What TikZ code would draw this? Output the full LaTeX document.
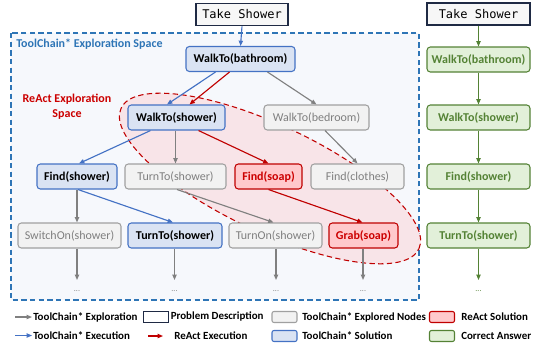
\documentclass[tikz,border=0pt]{standalone}
\usepackage{fontspec}
\setmainfont{Carlito}
\setmonofont{DejaVu Sans Mono}
\usetikzlibrary{arrows.meta,calc}
\definecolor{bluefill}{HTML}{DAE3F3}
\definecolor{blueline}{HTML}{4472C4}
\definecolor{grayfill}{HTML}{F2F2F2}
\definecolor{grayline}{HTML}{A0A0A0}
\definecolor{graytext}{HTML}{7F7F7F}
\definecolor{grayarrow}{HTML}{808080}
\definecolor{redfill}{HTML}{FFC9CC}
\definecolor{redline}{HTML}{C00000}
\definecolor{redtext}{HTML}{CC0000}
\definecolor{greenfill}{HTML}{E2F0D9}
\definecolor{greenline}{HTML}{548235}
\definecolor{navy}{HTML}{1F2A44}
\definecolor{pdfill}{HTML}{F7F7F7}
\definecolor{spaceline}{HTML}{2E75B6}
\definecolor{spacefill}{HTML}{F6F8FC}
\definecolor{ellfill}{HTML}{F8E4E8}
\begin{document}
\begin{tikzpicture}[x=0.75pt,y=-0.75pt,
  bw/.style={minimum width=#1*0.75pt},
  box/.style={rectangle, rounded corners=2.5pt, line width=0.8pt, inner sep=0pt, minimum height=18.75pt},
  nf/.style={font=\fontsize{9}{11}\selectfont},
  bf/.style={font=\fontsize{9}{11}\selectfont\bfseries},
  pd/.style={box, rounded corners=0pt, draw=navy, line width=1.2pt, fill=pdfill, minimum height=16.5pt, font=\fontsize{9}{11}\selectfont\ttfamily},
  bluebox/.style={box, draw=blueline, fill=bluefill, bf, text=black},
  graybox/.style={box, draw=grayline, fill=grayfill, nf, text=graytext},
  redbox/.style={box, draw=redline, fill=redfill, bf, text=redtext},
  greenbox/.style={box, draw=greenline, fill=greenfill, bf, text=greenline},
  arr/.style={-{Triangle[length=4pt,width=3.2pt]}, line width=0.85pt},
  ga/.style={arr, draw=grayarrow},
  ba/.style={arr, draw=blueline},
  ra/.style={arr, draw=redline},
  gra/.style={arr, draw=greenline},
  dots/.style={font=\fontsize{6}{6}\selectfont, text=graytext, inner sep=0pt},
  leg/.style={font=\fontsize{8.2}{9}\selectfont\bfseries, anchor=west, inner sep=0pt},
  legbox/.style={rectangle, rounded corners=1.5pt, line width=0.8pt, minimum width=18.75pt, minimum height=8.25pt, inner sep=0pt}
]
\useasboundingbox (0,0) rectangle (535,343);

% exploration space
\draw[spaceline, fill=spacefill, line width=0.8pt, dash pattern=on 4pt off 2.5pt] (11,33) rectangle (419,300);
\node[anchor=west, inner sep=0pt, text=spaceline, font=\fontsize{9}{11}\selectfont\bfseries] (tcs) at (16,44) {ToolChain* Exploration Space};

% react space ellipse
\draw[redline, fill=ellfill, line width=0.8pt, dash pattern=on 4pt off 2.5pt, shift={(270,178.5)}, rotate=-25.3] (0,0) ellipse [x radius=123.5pt, y radius=40pt];
\node[align=center, inner sep=0pt, text=redtext, font=\fontsize{9}{11}\selectfont\bfseries] (ras) at (67,107) {ReAct Exploration\\Space};

% left tree
\node[pd, bw=92] (ts1) at (242,14.5) {Take Shower};
\node[bluebox, bw=109] (wb) at (240.5,59) {WalkTo(bathroom)};
\node[bluebox, bw=97] (ws) at (176.5,117.5) {WalkTo(shower)};
\node[graybox, bw=105] (wbed) at (316.5,117.5) {WalkTo(bedroom)};
\node[bluebox, bw=80] (fs) at (77,176.5) {Find(shower)};
\node[graybox, bw=101] (tt1) at (175.5,176.5) {TurnTo(shower)};
\node[redbox, bw=67] (fsoap) at (268.5,176.5) {Find(soap)};
\node[graybox, bw=93] (fcl) at (357.5,176.5) {Find(clothes)};
\node[graybox, bw=103] (so) at (69.5,235.5) {SwitchOn(shower)};
\node[bluebox, bw=94] (tt2) at (175,235.5) {TurnTo(shower)};
\node[graybox, bw=93] (ton) at (275.5,235.5) {TurnOn(shower)};
\node[redbox, bw=69] (grab) at (363.5,235.5) {Grab(soap)};

% right column
\node[pd, bw=103] (ts2) at (478.5,14) {Take Shower};
\node[greenbox, bw=103] (wb2) at (478.5,59.5) {WalkTo(bathroom)};
\node[greenbox, bw=103] (ws2) at (478.5,117.5) {WalkTo(shower)};
\node[greenbox, bw=103] (fs2) at (478.5,176.5) {Find(shower)};
\node[greenbox, bw=103] (tt3) at (478.5,235.5) {TurnTo(shower)};

% dots
\coordinate (d1) at (77,280);
\coordinate (d2) at (174.5,280);
\coordinate (d3) at (276,280);
\coordinate (d4) at (363,280);
\coordinate (d5) at (478.5,280);
\node[dots] (t1) at (77,291) {...};
\node[dots] (t2) at (174.5,291) {...};
\node[dots] (t3) at (276,291) {...};
\node[dots] (t4) at (363,291) {...};
\node[dots, text=greenline] (t5) at (478.5,291) {...};

% left arrows
\draw[ba] (ts1.south) -- (wb.north);
\draw[ba] ($(wb.south)+(-25,0)$) -- ($(ws.north)+(-9.5,0)$);
\draw[ra] ($(wb.south)+(-11,0)$) -- ($(ws.north)+(13,0)$);
\draw[ga] ($(wb.south)+(27,0)$) -- (wbed.north);
\draw[ba] ($(ws.south)+(-26,0)$) -- ($(fs.north)+(2,0)$);
\draw[ga] (ws.south -| tt1.north) -- (tt1.north);
\draw[ra] ($(ws.south)+(22,0)$) -- (fsoap.north);
\draw[ga] ($(wbed.south)+(8.5,0)$) -- (fcl.north);
\draw[ga] (fs.south) -- (fs.south |- so.north);
\draw[ba] ($(fs.south)+(1,0)$) -- ($(tt2.north)+(-2,0)$);
\draw[ga] ($(tt1.south)+(1.5,0)$) -- ($(ton.north)+(-2,0)$);
\draw[ra] (fsoap.south) -- ($(grab.north)+(-1,0)$);
\draw[ga] (so.south -| d1) -- (d1);
\draw[ga] (tt2.south -| d2) -- (d2);
\draw[ga] (ton.south -| d3) -- (d3);
\draw[ga] (grab.south -| d4) -- (d4);

% right arrows
\draw[gra] (ts2.south) -- (wb2.north);
\draw[gra] (wb2.south) -- (ws2.north);
\draw[gra] (ws2.south) -- (fs2.north);
\draw[gra] (fs2.south) -- (tt3.north);
\draw[gra] (tt3.south) -- (d5);

% legend
\coordinate (la1) at (15,317); \coordinate (lb1) at (32,317);
\coordinate (la2) at (15,335.5); \coordinate (lb2) at (32,335.5);
\coordinate (la3) at (148,336); \coordinate (lb3) at (163,336);
\draw[ga] (la1) -- (lb1);
\draw[ba] (la2) -- (lb2);
\draw[ra] (la3) -- (lb3);
\node[leg] (l1) at (33,317) {ToolChain* Exploration};
\node[leg] (l2) at (33,335.5) {ToolChain* Execution};
\node[legbox, draw=navy, fill=white, line width=1.1pt, rounded corners=0pt] (bx1) at (156,317) {};
\node[leg] (l3) at (170.5,317) {Problem Description};
\node[leg] (l4) at (174,336) {ReAct Execution};
\node[legbox, draw=grayline, fill=grayfill] (bx2) at (284.5,317) {};
\node[leg] (l5) at (302,317) {ToolChain* Explored Nodes};
\node[legbox, draw=blueline, fill=bluefill] (bx3) at (284.5,336) {};
\node[leg] (l6) at (302,336) {ToolChain* Solution};
\node[legbox, draw=redline, fill=redfill] (bx4) at (442,317) {};
\node[leg] (l7) at (461,317) {ReAct Solution};
\node[legbox, draw=greenline, fill=greenfill] (bx5) at (442,336) {};
\node[leg] (l8) at (461,336) {Correct Answer};
\end{tikzpicture}
\end{document}
